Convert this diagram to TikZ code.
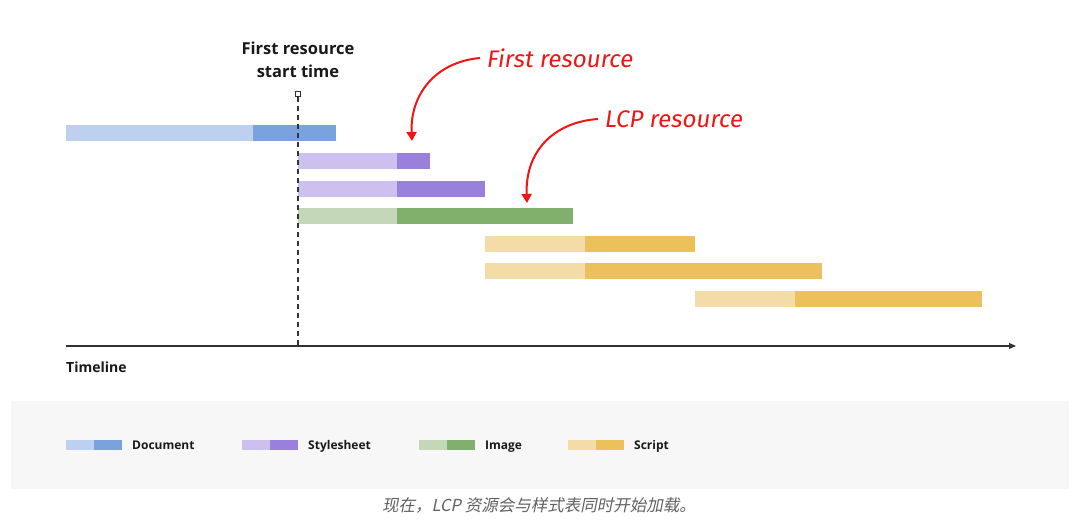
\documentclass[tikz,border=0pt]{standalone}
\usepackage{fontspec}
\setmainfont{Open Sans}
\newfontfamily\cjk[FakeSlant=0.2]{Noto Sans CJK SC}
\newfontfamily\hand[FakeSlant=0.15]{Fira Sans}
\usetikzlibrary{arrows.meta}
\definecolor{docL}{HTML}{BDD0F0}\definecolor{docD}{HTML}{7AA2DD}
\definecolor{cssL}{HTML}{CDBFEE}\definecolor{cssD}{HTML}{9A80DD}
\definecolor{imgL}{HTML}{C4D7B8}\definecolor{imgD}{HTML}{80B06C}
\definecolor{jsL}{HTML}{F4DCA9}\definecolor{jsD}{HTML}{ECC05A}
\definecolor{hred}{HTML}{F01515}
\definecolor{axis}{HTML}{333333}
\definecolor{legbg}{HTML}{F7F7F7}
\tikzset{
  lbl/.style={font=\fontsize{15}{18}\selectfont\bfseries, text=black!90, inner sep=0pt},
  leglbl/.style={font=\fontsize{12}{14}\selectfont\bfseries, text=black!90, inner sep=0pt, anchor=base west},
  note/.style={font=\fontsize{24}{28}\selectfont\hand, text=hred, inner sep=0pt, anchor=west},
  redarrow/.style={draw=hred, line width=2pt, -{Triangle[length=9pt,width=10pt]}},
}
\newcommand\barpair[5]{% y, x0, xm, x1, color-prefix
  \fill[#5L] (#2,#1) rectangle (#3,#1+16);
  \fill[#5D] (#3,#1) rectangle (#4,#1+16);}
\newcommand\swatch[3]{% x, y, prefix
  \fill[#3L] (#1,#2) rectangle (#1+28,#2+10);
  \fill[#3D] (#1+28,#2) rectangle (#1+56,#2+10);}
\begin{document}
\begin{tikzpicture}[x=1pt,y=-1pt]
\useasboundingbox (0,0) rectangle (1080,526);
\fill[white] (0,0) rectangle (1080,526);
% bars
\barpair{125}{66}{253}{336}{doc}
\barpair{153}{298}{397}{430}{css}
\barpair{181}{298}{397}{485}{css}
\barpair{208}{298}{397}{573}{img}
\barpair{236}{485}{585}{695}{js}
\barpair{263}{485}{585}{822}{js}
\barpair{291}{695}{795}{982}{js}
% axis
\coordinate (ax0) at (66,346);
\coordinate (ax1) at (1016,346);
\draw[axis, line width=1.2pt, -{Triangle[length=7pt,width=6pt]}] (ax0) -- (ax1);
\node[lbl, anchor=west, font=\fontsize{14}{17}\selectfont\bfseries] (tl) at (66,367) {Timeline};
% start marker
\node[lbl, align=center, font=\fontsize{16.5}{23}\selectfont\bfseries] (frst) at (298,60) {First resource\\start time};
\coordinate (mk) at (298,97);
\coordinate (mkb) at (298,346);
\draw[axis, line width=1.1pt, dash pattern=on 5pt off 4pt] (mk) -- (mkb);
\node[draw=axis, line width=1pt, minimum size=5pt, inner sep=0pt, fill=white] (sq) at (298,94) {};
% annotations
\node[note] (n1) at (486,58) {First resource};
\node[note] (n2) at (604,119) {LCP resource};
\coordinate (t1) at (412,141);
\coordinate (t2) at (527,203);
\draw[redarrow] ([xshift=-6pt]n1.west) .. controls (435,62) and (410,95) .. (t1);
\draw[redarrow] ([xshift=-6pt]n2.west) .. controls (555,122) and (525,150) .. (t2);
% legend
\fill[legbg] (11,401) rectangle (1069,489);
\swatch{66}{440}{doc}
\node[leglbl] (l1) at (132,449.5) {Document};
\swatch{242}{440}{css}
\node[leglbl] (l2) at (308,449.5) {Stylesheet};
\swatch{419}{440}{img}
\node[leglbl] (l3) at (485,449.5) {Image};
\swatch{568}{440}{js}
\node[leglbl] (l4) at (634,449.5) {Script};
% caption
\node[font=\fontsize{16.5}{19}\selectfont\cjk, text=black!62, inner sep=0pt] (cap) at (539,505) {现在，LCP 资源会与样式表同时开始加载。};
\end{tikzpicture}
\end{document}
